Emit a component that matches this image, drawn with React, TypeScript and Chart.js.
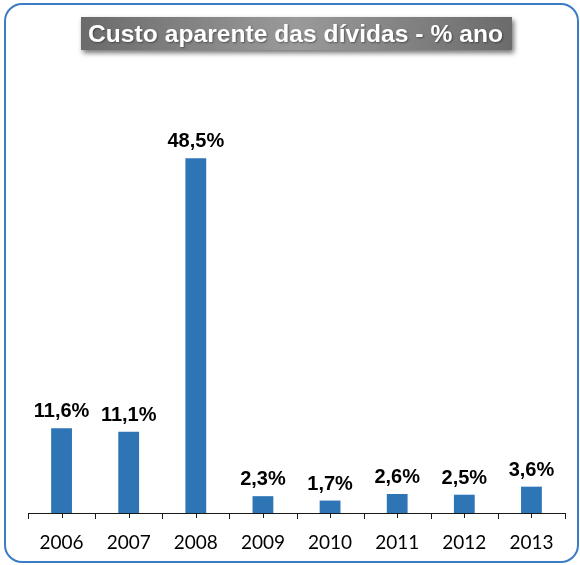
import React, { useEffect, useRef } from "react";
import { Chart, registerables } from "chart.js";

Chart.register(...registerables);

const categories: string[] = ["2006", "2007", "2008", "2009", "2010", "2011", "2012", "2013"];
const values: number[] = [11.6, 11.1, 48.5, 2.3, 1.7, 2.6, 2.5, 3.6];
const valueLabels: string[] = ["11,6%", "11,1%", "48,5%", "2,3%", "1,7%", "2,6%", "2,5%", "3,6%"];
const titleText = "Custo aparente das dívidas - % ano";

const framePlugin = {
  id: "frame",
  beforeDraw(chart: any) {
    const ctx = chart.ctx;
    ctx.save();
    ctx.fillStyle = "#ffffff";
    ctx.fillRect(0, 0, chart.width, chart.height);
    // rounded border
    const x0 = 5, y0 = 4, x1 = 578, y1 = 562, r = 17;
    ctx.beginPath();
    ctx.moveTo(x0 + r, y0);
    ctx.lineTo(x1 - r, y0);
    ctx.arcTo(x1, y0, x1, y0 + r, r);
    ctx.lineTo(x1, y1 - r);
    ctx.arcTo(x1, y1, x1 - r, y1, r);
    ctx.lineTo(x0 + r, y1);
    ctx.arcTo(x0, y1, x0, y1 - r, r);
    ctx.lineTo(x0, y0 + r);
    ctx.arcTo(x0, y0, x0 + r, y0, r);
    ctx.closePath();
    ctx.strokeStyle = "#3b7cc4";
    ctx.lineWidth = 2;
    ctx.stroke();

    // title box
    const bx = 81, by = 17, bw = 431, bh = 33;
    ctx.save();
    ctx.shadowColor = "rgba(0,0,0,0.55)";
    ctx.shadowBlur = 5;
    ctx.shadowOffsetX = 2;
    ctx.shadowOffsetY = 3;
    const g = ctx.createLinearGradient(bx, 0, bx + bw, 0);
    g.addColorStop(0, "#6b6b6b");
    g.addColorStop(0.5, "#9a9a9a");
    g.addColorStop(1, "#6b6b6b");
    ctx.fillStyle = g;
    ctx.fillRect(bx, by, bw, bh);
    ctx.restore();

    ctx.save();
    ctx.font = "bold 23px 'Liberation Sans', Arial, sans-serif";
    const w = ctx.measureText(titleText).width;
    const target = 415;
    const sx = target / w;
    ctx.translate(88, 41.5);
    ctx.scale(sx, 1);
    ctx.textAlign = "left";
    ctx.textBaseline = "alphabetic";
    ctx.shadowColor = "rgba(0,0,0,0.4)";
    ctx.shadowBlur = 2;
    ctx.shadowOffsetX = 1;
    ctx.shadowOffsetY = 1;
    ctx.fillStyle = "#ffffff";
    ctx.fillText(titleText, 0, 0);
    ctx.restore();
    ctx.restore();
  },
  afterDatasetsDraw(chart: any) {
    const ctx = chart.ctx;
    const xs = chart.scales.x;
    const area = chart.chartArea;
    ctx.save();
    // tick marks
    ctx.strokeStyle = "#1a1a1a";
    ctx.lineWidth = 1;
    const n = categories.length;
    const step = (area.right - area.left) / n;
    ctx.beginPath();
    for (let i = 0; i <= n; i++) {
      const x = Math.round(area.left + i * step) + 0.5;
      ctx.moveTo(x, area.bottom);
      ctx.lineTo(x, area.bottom + 6);
    }
    for (let i = 0; i < n; i++) {
      const x = Math.round(xs.getPixelForValue(i)) + 0.5;
      ctx.moveTo(x, area.bottom);
      ctx.lineTo(x, area.bottom + 5);
    }
    ctx.stroke();

    // data labels
    const meta = chart.getDatasetMeta(0);
    ctx.font = "bold 20px 'Liberation Sans', Arial, sans-serif";
    ctx.fillStyle = "#000000";
    ctx.textAlign = "center";
    ctx.textBaseline = "alphabetic";
    meta.data.forEach((bar: any, i: number) => {
      ctx.fillText(valueLabels[i], bar.x, bar.y - 11);
    });
    ctx.restore();
  },
};

export default function App() {
  const ref = useRef<HTMLCanvasElement | null>(null);
  useEffect(() => {
    if (!ref.current) return;
    const chart = new Chart(ref.current, {
      type: "bar",
      data: {
        labels: categories,
        datasets: [
          {
            data: values,
            backgroundColor: "#2e75b6",
            borderWidth: 0,
            categoryPercentage: 1,
            barPercentage: 0.31,
          },
        ],
      },
      options: {
        responsive: false,
        animation: false,
        devicePixelRatio: 1,
        layout: { padding: { top: 74, left: 28, right: 15, bottom: 0 } },
        plugins: {
          legend: { display: false },
          title: { display: false },
          tooltip: { enabled: false },
        },
        scales: {
          x: {
            type: "category",
            offset: true,
            grid: { display: false },
            border: { display: true, color: "#1a1a1a", width: 1 },
            ticks: {
              color: "#000000",
              font: { family: "Lato, 'Liberation Sans', sans-serif", size: 19 },
              padding: 10,
              maxRotation: 0,
              autoSkip: false,
            },
            afterFit: (scale: any) => {
              scale.height = 52;
            },
          },
          y: {
            display: false,
            min: 0,
            max: 60,
          },
        },
      },
      plugins: [framePlugin],
    });
    return () => chart.destroy();
  }, []);
  return (
    <div style={{ position: "fixed", left: 0, top: 0, width: 580, height: 565, background: "#fff" }}>
      <canvas ref={ref} width={580} height={565} style={{ display: "block" }} />
    </div>
  );
}
